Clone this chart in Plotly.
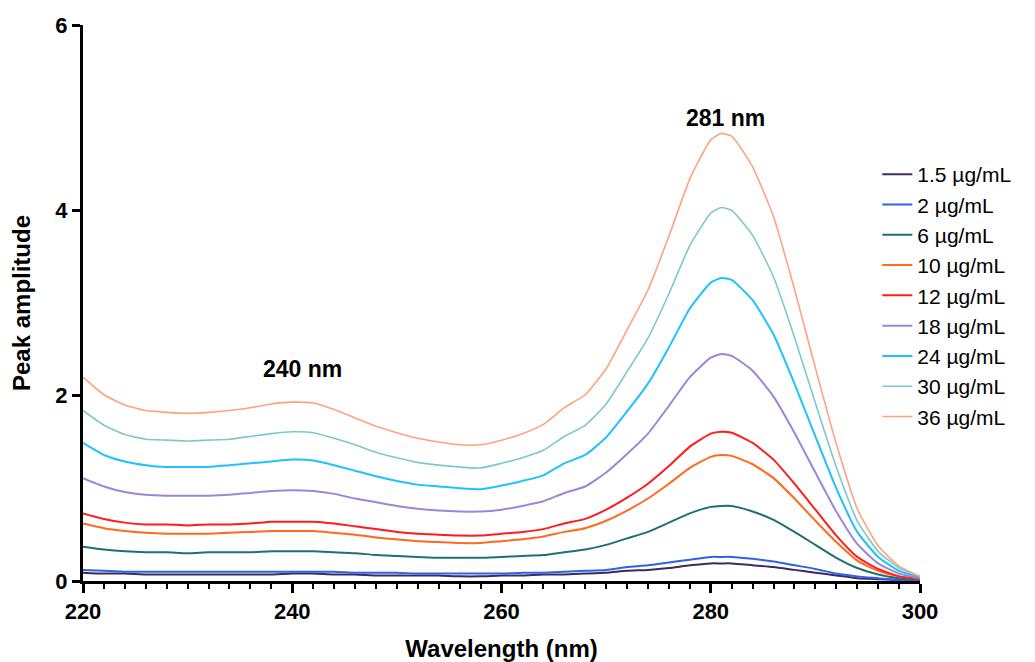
import plotly.graph_objects as go

wavelength = [220, 222, 224, 226, 228, 230, 232, 234, 236, 238, 240, 242, 244, 246, 248, 250,
              252, 254, 256, 258, 260, 262, 264, 266, 268, 270, 272, 274, 276, 278, 280, 281,
              282, 284, 286, 288, 290, 292, 294, 296, 298, 300]

c1_5 = [0.09, 0.08, 0.08, 0.07, 0.07, 0.07, 0.07, 0.07, 0.07, 0.07, 0.08, 0.08, 0.07, 0.07, 0.06, 0.06,
        0.06, 0.06, 0.05, 0.05, 0.06, 0.06, 0.07, 0.07, 0.08, 0.09, 0.11, 0.12, 0.14, 0.17, 0.19, 0.19,
        0.19, 0.17, 0.15, 0.12, 0.09, 0.06, 0.03, 0.02, 0.01, 0.00]
c2 = [0.12, 0.11, 0.10, 0.10, 0.10, 0.10, 0.10, 0.10, 0.10, 0.10, 0.10, 0.10, 0.10, 0.09, 0.09, 0.09,
      0.08, 0.08, 0.08, 0.08, 0.08, 0.09, 0.09, 0.10, 0.11, 0.12, 0.15, 0.17, 0.20, 0.23, 0.26, 0.26,
      0.26, 0.24, 0.21, 0.17, 0.13, 0.08, 0.05, 0.03, 0.01, 0.01]
c6 = [0.37, 0.34, 0.32, 0.31, 0.31, 0.30, 0.31, 0.31, 0.31, 0.32, 0.32, 0.32, 0.31, 0.30, 0.28, 0.27,
      0.26, 0.25, 0.25, 0.25, 0.26, 0.27, 0.28, 0.31, 0.34, 0.39, 0.46, 0.53, 0.63, 0.73, 0.80, 0.81,
      0.81, 0.75, 0.66, 0.53, 0.39, 0.25, 0.14, 0.07, 0.03, 0.01]
c10 = [0.62, 0.57, 0.54, 0.52, 0.51, 0.51, 0.51, 0.52, 0.53, 0.54, 0.54, 0.54, 0.52, 0.50, 0.47, 0.45,
       0.43, 0.42, 0.41, 0.41, 0.43, 0.45, 0.48, 0.53, 0.57, 0.65, 0.76, 0.89, 1.05, 1.22, 1.34, 1.36,
       1.35, 1.26, 1.11, 0.89, 0.65, 0.42, 0.22, 0.11, 0.05, 0.02]
c12 = [0.73, 0.67, 0.63, 0.61, 0.61, 0.60, 0.61, 0.61, 0.62, 0.64, 0.64, 0.64, 0.62, 0.59, 0.56, 0.53,
       0.51, 0.50, 0.49, 0.49, 0.51, 0.53, 0.56, 0.62, 0.67, 0.77, 0.90, 1.05, 1.24, 1.45, 1.59, 1.61,
       1.60, 1.49, 1.31, 1.05, 0.77, 0.49, 0.26, 0.13, 0.05, 0.02]
c18 = [1.11, 1.02, 0.96, 0.93, 0.92, 0.92, 0.92, 0.93, 0.95, 0.97, 0.98, 0.97, 0.94, 0.89, 0.85, 0.81,
       0.78, 0.76, 0.75, 0.75, 0.77, 0.81, 0.86, 0.95, 1.02, 1.17, 1.37, 1.59, 1.89, 2.20, 2.41, 2.45,
       2.43, 2.27, 1.99, 1.60, 1.17, 0.75, 0.40, 0.19, 0.08, 0.03]
c24 = [1.49, 1.36, 1.29, 1.25, 1.23, 1.23, 1.23, 1.25, 1.27, 1.29, 1.31, 1.30, 1.25, 1.19, 1.13, 1.08,
       1.04, 1.02, 1.00, 0.99, 1.03, 1.08, 1.14, 1.27, 1.36, 1.55, 1.83, 2.13, 2.52, 2.94, 3.22, 3.27,
       3.25, 3.03, 2.66, 2.13, 1.56, 1.00, 0.53, 0.26, 0.11, 0.04]
c30 = [1.84, 1.68, 1.58, 1.53, 1.52, 1.51, 1.52, 1.53, 1.56, 1.59, 1.61, 1.60, 1.54, 1.47, 1.39, 1.33,
       1.28, 1.25, 1.23, 1.22, 1.27, 1.33, 1.41, 1.56, 1.68, 1.91, 2.26, 2.62, 3.10, 3.62, 3.97, 4.03,
       4.00, 3.73, 3.28, 2.63, 1.92, 1.23, 0.65, 0.32, 0.14, 0.05]
c36 = [2.20, 2.01, 1.90, 1.84, 1.82, 1.81, 1.82, 1.84, 1.87, 1.91, 1.93, 1.92, 1.85, 1.76, 1.67, 1.60,
       1.54, 1.50, 1.47, 1.47, 1.52, 1.59, 1.69, 1.87, 2.01, 2.29, 2.71, 3.14, 3.72, 4.34, 4.76, 4.83,
       4.80, 4.47, 3.93, 3.15, 2.30, 1.48, 0.78, 0.38, 0.16, 0.05]

series_names = ["1.5 µg/mL", "2 µg/mL", "6 µg/mL", "10 µg/mL", "12 µg/mL",
                "18 µg/mL", "24 µg/mL", "30 µg/mL", "36 µg/mL"]
series_values = [c1_5, c2, c6, c10, c12, c18, c24, c30, c36]
series_colors = ["#3b2b5e", "#2f62ea", "#1f6f74", "#ff6a1c", "#ff1c1c",
                 "#9d86d8", "#1ec2ff", "#7ec8cc", "#ffa27e"]
series_widths = [2, 2, 2, 2, 2, 2, 2, 1.6, 1.6]

peak_labels = ["240 nm", "281 nm"]
peak_x = [241.0, 281.4]
peak_y = [2.29, 5.0]

FONT = "Liberation Sans, Arial, sans-serif"

fig = go.Figure()
for name, vals, col, w in zip(series_names, series_values, series_colors, series_widths):
    fig.add_trace(go.Scatter(x=wavelength, y=vals, name=name, mode="lines",
                             line=dict(color=col, width=w, shape="spline", smoothing=0.5)))

for lab, xx, yy in zip(peak_labels, peak_x, peak_y):
    fig.add_annotation(x=xx, y=yy, text="<b>" + lab + "</b>", showarrow=False,
                       font=dict(family=FONT, size=23, color="black"))

fig.update_layout(
    width=1035, height=662,
    margin=dict(l=83, r=115, t=25, b=81, autoexpand=False),
    paper_bgcolor="white", plot_bgcolor="white",
    font=dict(family=FONT, color="black"),
    legend=dict(x=0.949, y=0.768, xanchor="left", yanchor="top",
                font=dict(family=FONT, size=21, color="black"),
                bgcolor="rgba(0,0,0,0)", tracegroupgap=0, itemwidth=30),
    showlegend=True,
)
fig.update_xaxes(
    range=[220, 300], tickvals=[220, 240, 260, 280, 300],
    showline=True, linecolor="black", linewidth=3, mirror=False,
    ticks="outside", ticklen=9, tickwidth=3, tickcolor="black",
    minor=dict(dtick=2, tick0=220, ticks="outside", ticklen=5, tickwidth=2, tickcolor="black"),
    showgrid=False, zeroline=False, automargin=False,
    tickfont=dict(family=FONT, size=22, color="black", weight="bold"),
    title=dict(text="<b>Wavelength (nm)</b>", font=dict(family=FONT, size=24, color="black"),
               standoff=24),
)
fig.update_yaxes(
    range=[0, 6], tickvals=[0, 2, 4, 6],
    showline=True, linecolor="black", linewidth=3,
    ticks="outside", ticklen=8, tickwidth=3, tickcolor="black",
    showgrid=False, zeroline=False, automargin=False,
    tickfont=dict(family=FONT, size=22, color="black", weight="bold"),
    title=dict(text="<b>Peak amplitude</b>", font=dict(family=FONT, size=24, color="black"),
               standoff=18),
)

fig.write_html("out.html")
